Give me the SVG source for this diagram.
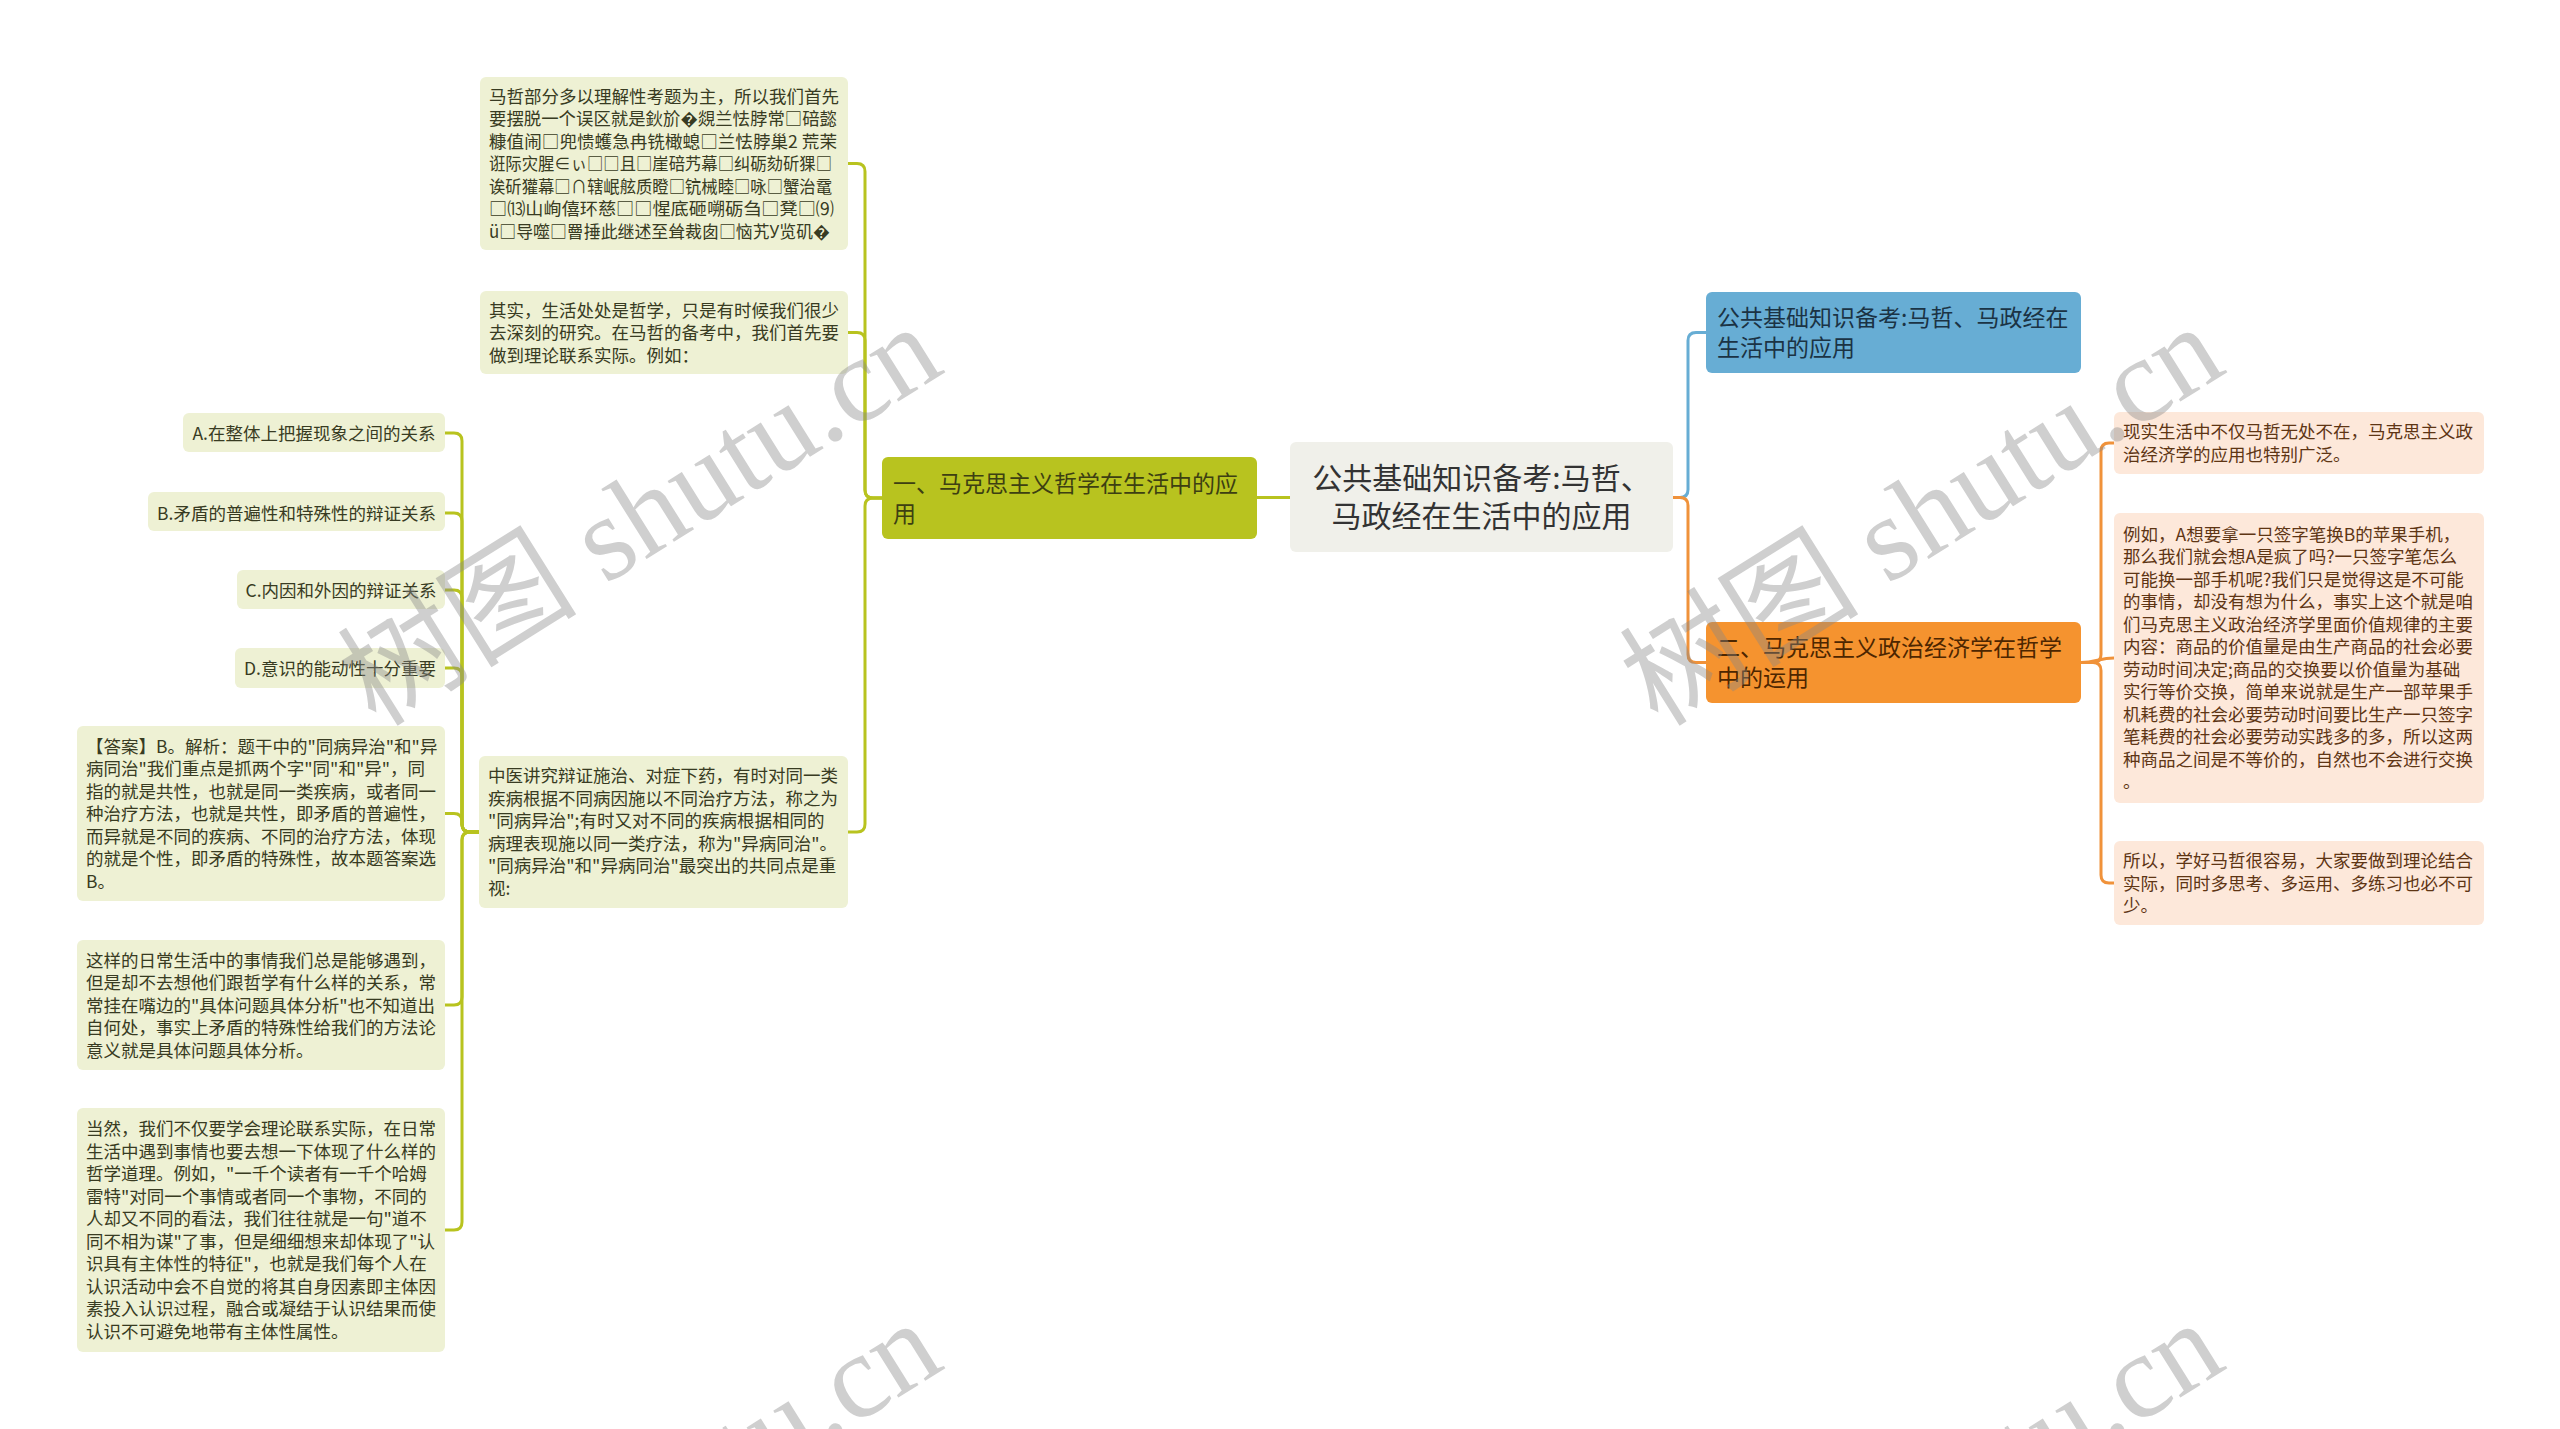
<svg xmlns="http://www.w3.org/2000/svg" width="2560" height="1429" viewBox="0 0 2560 1429">
<style>
text{font-family:"Noto Sans CJK SC","Noto Sans",sans-serif;}
.lf{font-size:17.5px;fill:#383b22;}
.rf{font-size:17.5px;fill:#5e3514;}
.gl{fill:#eef1d4;}
.ol{fill:#fde8da;}
.ln{fill:none;stroke-width:3;}
.g{stroke:#b8c31f;}
.b{stroke:#67add4;}
.o{stroke:#f0923a;}
.wm{font-family:"Liberation Serif","Noto Sans CJK SC",serif;font-size:120px;fill:#888;opacity:0.4;}
</style>
<rect width="2560" height="1429" fill="#ffffff"/>
<g id="connectors">
<path class="ln g" d="M1290,497.5 H1257"/>
<path class="ln g" d="M882,498 H873 Q865,498 865,490 V171.5 Q865,163.5 857,163.5 H848"/>
<path class="ln g" d="M882,498 H873 Q865,498 865,490 V340.5 Q865,332.5 857,332.5 H848"/>
<path class="ln g" d="M882,498 H873 Q865,498 865,506 V824 Q865,832 857,832 H848"/>
<path class="ln g" d="M479,832 H470 Q462,832 462,824 V441 Q462,433 454,433 H445"/>
<path class="ln g" d="M479,832 H470 Q462,832 462,824 V521 Q462,513 454,513 H445"/>
<path class="ln g" d="M479,832 H470 Q462,832 462,824 V598 Q462,590 454,590 H445"/>
<path class="ln g" d="M479,832 H470 Q462,832 462,824 V676 Q462,668 454,668 H445"/>
<path class="ln g" d="M479,832 H470 Q462,832 462,824 V821.5 Q462,813.5 454,813.5 H445"/>
<path class="ln g" d="M479,832 H470 Q462,832 462,840 V997 Q462,1005 454,1005 H445"/>
<path class="ln g" d="M479,832 H470 Q462,832 462,840 V1222 Q462,1230 454,1230 H445"/>
<path class="ln b" d="M1673,497.5 H1680 Q1688,497.5 1688,489.5 V340.5 Q1688,332.5 1696,332.5 H1706"/>
<path class="ln o" d="M1673,497.5 H1680 Q1688,497.5 1688,505.5 V654.5 Q1688,662.5 1696,662.5 H1706"/>
<path class="ln o" d="M2081,662.5 H2093 Q2101,662.5 2101,654.5 V451 Q2101,443 2109,443 H2114"/>
<path class="ln o" d="M2081,662.5 C2095,662.5 2100,658 2114,658"/>
<path class="ln o" d="M2081,662.5 H2093 Q2101,662.5 2101,670.5 V875 Q2101,883 2109,883 H2114"/>
</g>
<g id="center">
<rect x="1290" y="442" width="383" height="110" rx="6" fill="#f0f0ea"/>
<text font-size="30" fill="#333333" text-anchor="middle"><tspan x="1481.5" y="489.4">公共基础知识备考:马哲、</tspan><tspan x="1481.5" y="527.4">马政经在生活中的应用</tspan></text>
</g>
<g id="branch1">
<rect x="882" y="457" width="375" height="82" rx="6" fill="#b8c31f"/>
<text font-size="23" fill="#3d3f12"><tspan x="893" y="491.7">一、马克思主义哲学在生活中的应</tspan><tspan x="893" y="521.7">用</tspan></text>
</g>
<g id="branch2">
<rect x="1706" y="292" width="375" height="81" rx="6" fill="#67add4"/>
<text font-size="23" fill="#1b3344"><tspan x="1717" y="326.2">公共基础知识备考:马哲、马政经在</tspan><tspan x="1717" y="356.2">生活中的应用</tspan></text>
</g>
<g id="branch3">
<rect x="1706" y="622" width="375" height="81" rx="6" fill="#f5932f"/>
<text font-size="23" fill="#4d2600"><tspan x="1717" y="656.2">二、马克思主义政治经济学在哲学</tspan><tspan x="1717" y="686.2">中的运用</tspan></text>
</g>
<g id="leaf-mazhe">
<rect class="gl" x="480" y="77" width="368" height="173" rx="6"/>
<text class="lf" x="489" y="102.9">马哲部分多以理解性考题为主，所以我们首先</text>
<text class="lf" x="489" y="125.4" textLength="348" lengthAdjust="spacingAndGlyphs">要摆脱一个误区就是鈥斺�覢兰怯脖常□碚懿</text>
<text class="lf" x="489" y="147.9" textLength="348" lengthAdjust="spacingAndGlyphs">糠值闹□兜愦蠖急冉铣橄螅□兰怯脖巢2 荒茉</text>
<text class="lf" x="489" y="170.4" textLength="343" lengthAdjust="spacingAndGlyphs">诳际灾腥∈ぃ□□且□崖碚艿幕□纠砺劾斫猓□</text>
<text class="lf" x="489" y="192.9" textLength="343" lengthAdjust="spacingAndGlyphs">诶斫獾幕□∩辖岷舷质瞪□钪械睦□咏□蟹治鼋</text>
<text class="lf" x="489" y="215.4" textLength="345" lengthAdjust="spacingAndGlyphs">□⒀山峋僖环慈□□惺底砸嗍砺刍□凳□⑼</text>
<text class="lf" x="489" y="237.9" textLength="341" lengthAdjust="spacingAndGlyphs">ü□导噬□罾捶此继述至耸裁囱□恼艽У览矶�</text>
</g>
<g id="leaf-qishi">
<rect class="gl" x="480" y="291" width="368" height="83" rx="6"/>
<text class="lf"><tspan x="489" y="316.7">其实，生活处处是哲学，只是有时候我们很少</tspan><tspan x="489" y="339.2">去深刻的研究。在马哲的备考中，我们首先要</tspan><tspan x="489" y="361.7">做到理论联系实际。例如：</tspan></text>
</g>
<g id="leaf-zhongyi">
<rect class="gl" x="479" y="756" width="369" height="152" rx="6"/>
<text class="lf"><tspan x="488" y="782.4">中医讲究辩证施治、对症下药，有时对同一类</tspan><tspan x="488" y="804.9">疾病根据不同病因施以不同治疗方法，称之为</tspan><tspan x="488" y="827.4">"同病异治";有时又对不同的疾病根据相同的</tspan><tspan x="488" y="849.9">病理表现施以同一类疗法，称为"异病同治"。</tspan><tspan x="488" y="872.4">"同病异治"和"异病同治"最突出的共同点是重</tspan><tspan x="488" y="894.9">视:</tspan></text>
</g>
<g id="leaf-a">
<rect class="gl" x="183" y="413" width="262" height="39" rx="6"/>
<text class="lf" text-anchor="middle" x="314" y="439.6">A.在整体上把握现象之间的关系</text>
</g>
<g id="leaf-b">
<rect class="gl" x="148" y="492" width="297" height="39" rx="6"/>
<text class="lf" text-anchor="middle" x="296.5" y="519.6">B.矛盾的普遍性和特殊性的辩证关系</text>
</g>
<g id="leaf-c">
<rect class="gl" x="237" y="570" width="208" height="39" rx="6"/>
<text class="lf" text-anchor="middle" x="341" y="596.6">C.内因和外因的辩证关系</text>
</g>
<g id="leaf-d">
<rect class="gl" x="235" y="648" width="210" height="40" rx="6"/>
<text class="lf" text-anchor="middle" x="340" y="674.6">D.意识的能动性十分重要</text>
</g>
<g id="leaf-answer">
<rect class="gl" x="77" y="726" width="368" height="175" rx="6"/>
<text class="lf"><tspan x="86" y="752.7">【答案】B。解析：题干中的"同病异治"和"异</tspan><tspan x="86" y="775.2">病同治"我们重点是抓两个字"同"和"异"，同</tspan><tspan x="86" y="797.7">指的就是共性，也就是同一类疾病，或者同一</tspan><tspan x="86" y="820.2">种治疗方法，也就是共性，即矛盾的普遍性，</tspan><tspan x="86" y="842.7">而异就是不同的疾病、不同的治疗方法，体现</tspan><tspan x="86" y="865.2">的就是个性，即矛盾的特殊性，故本题答案选</tspan><tspan x="86" y="887.7">B。</tspan></text>
</g>
<g id="leaf-zheyang">
<rect class="gl" x="77" y="940" width="368" height="130" rx="6"/>
<text class="lf"><tspan x="86" y="966.7">这样的日常生活中的事情我们总是能够遇到，</tspan><tspan x="86" y="989.2">但是却不去想他们跟哲学有什么样的关系，常</tspan><tspan x="86" y="1011.7">常挂在嘴边的"具体问题具体分析"也不知道出</tspan><tspan x="86" y="1034.2">自何处，事实上矛盾的特殊性给我们的方法论</tspan><tspan x="86" y="1056.7">意义就是具体问题具体分析。</tspan></text>
</g>
<g id="leaf-dangran">
<rect class="gl" x="77" y="1108" width="368" height="244" rx="6"/>
<text class="lf"><tspan x="86" y="1135.4">当然，我们不仅要学会理论联系实际，在日常</tspan><tspan x="86" y="1157.9">生活中遇到事情也要去想一下体现了什么样的</tspan><tspan x="86" y="1180.4">哲学道理。例如，"一千个读者有一千个哈姆</tspan><tspan x="86" y="1202.9">雷特"对同一个事情或者同一个事物，不同的</tspan><tspan x="86" y="1225.4">人却又不同的看法，我们往往就是一句"道不</tspan><tspan x="86" y="1247.9">同不相为谋"了事，但是细细想来却体现了"认</tspan><tspan x="86" y="1270.4">识具有主体性的特征"，也就是我们每个人在</tspan><tspan x="86" y="1292.9">认识活动中会不自觉的将其自身因素即主体因</tspan><tspan x="86" y="1315.4">素投入认识过程，融合或凝结于认识结果而使</tspan><tspan x="86" y="1337.9">认识不可避免地带有主体性属性。</tspan></text>
</g>
<g id="leaf-r1">
<rect class="ol" x="2114" y="412" width="370" height="62" rx="6"/>
<text class="rf"><tspan x="2123" y="438.4">现实生活中不仅马哲无处不在，马克思主义政</tspan><tspan x="2123" y="460.9">治经济学的应用也特别广泛。</tspan></text>
</g>
<g id="leaf-r2">
<rect class="ol" x="2114" y="513" width="370" height="290" rx="6"/>
<text class="rf"><tspan x="2123" y="540.9">例如，A想要拿一只签字笔换B的苹果手机，</tspan><tspan x="2123" y="563.4">那么我们就会想A是疯了吗?一只签字笔怎么</tspan><tspan x="2123" y="585.9">可能换一部手机呢?我们只是觉得这是不可能</tspan><tspan x="2123" y="608.4">的事情，却没有想为什么，事实上这个就是咱</tspan><tspan x="2123" y="630.9">们马克思主义政治经济学里面价值规律的主要</tspan><tspan x="2123" y="653.4">内容：商品的价值量是由生产商品的社会必要</tspan><tspan x="2123" y="675.9">劳动时间决定;商品的交换要以价值量为基础</tspan><tspan x="2123" y="698.4">实行等价交换，简单来说就是生产一部苹果手</tspan><tspan x="2123" y="720.9">机耗费的社会必要劳动时间要比生产一只签字</tspan><tspan x="2123" y="743.4">笔耗费的社会必要劳动实践多的多，所以这两</tspan><tspan x="2123" y="765.9">种商品之间是不等价的，自然也不会进行交换</tspan><tspan x="2123" y="788.4">。</tspan></text>
</g>
<g id="leaf-r3">
<rect class="ol" x="2114" y="841" width="370" height="84" rx="6"/>
<text class="rf"><tspan x="2123" y="867.2">所以，学好马哲很容易，大家要做到理论结合</tspan><tspan x="2123" y="889.7">实际，同时多思考、多运用、多练习也必不可</tspan><tspan x="2123" y="912.2">少。</tspan></text>
</g>
<g id="watermarks">
<text class="wm" transform="translate(376,728) rotate(-32)">树图 shutu.cn</text>
<text class="wm" transform="translate(1658,728) rotate(-32)">树图 shutu.cn</text>
<text class="wm" transform="translate(376,1724) rotate(-32)">树图 shutu.cn</text>
<text class="wm" transform="translate(1658,1724) rotate(-32)">树图 shutu.cn</text>
</g>
</svg>
